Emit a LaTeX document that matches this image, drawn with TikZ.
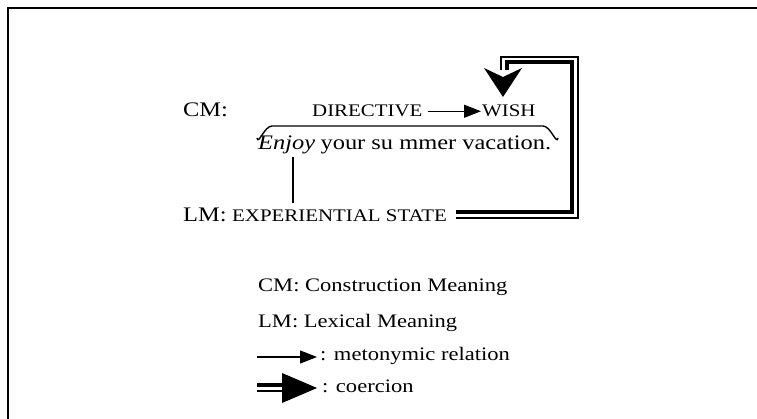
\documentclass[tikz,border=0pt]{standalone}
\usepackage{fontspec}
\setmainfont{Liberation Serif}[FakeStretch=1.18]
\usetikzlibrary{arrows.meta,positioning,calc}
\newcommand{\cmsize}{\fontsize{20.7pt}{24pt}\selectfont}
\newcommand{\capsize}{\fontsize{17.7pt}{21pt}\selectfont}
\newcommand{\legsize}{\fontsize{19.1pt}{23pt}\selectfont}
\tikzset{
  lbl/.style={anchor=base west,inner sep=0pt,font=\cmsize},
  capslbl/.style={anchor=base west,inner sep=0pt,font=\capsize},
  leglbl/.style={anchor=base west,inner sep=0pt,font=\legsize},
  meto/.style={line width=1.2pt,-{Triangle[length=17pt,width=13pt]}},
  thickline/.style={line width=4pt},
  thinline/.style={line width=1.5pt},
}

\begin{document}
\begin{tikzpicture}[x=1pt,y=-1pt]
    \useasboundingbox (0,0) rectangle (757,419);
    \draw[line width=1.6pt] (8,440) |- (780,8);
    % construction and lexical meaning
    \node[lbl] (cm) at (183,117) {CM:};
    \node[capslbl] (dir) at (312,117) {DIRECTIVE};
    \node[capslbl] (wish) at (482,117) {WISH};
    \draw[meto,shorten <=5pt,shorten >=1pt] (dir.east) -- (wish.west);
    \draw[line width=1.4pt] (257,138) to[out=-80,in=180] (272,126) -- (543,126) to[out=0,in=-100] (558,138);
    \node[lbl] (enjoy) at (258,150) {\itshape Enjoy};
    \node[lbl,anchor=base west] (rest) at ([xshift=5pt]enjoy.base east) {your su mmer vacation.};
    \node[lbl] (lm) at (183,222) {LM:};
    \node[capslbl] (exp) at (232,222) {EXPERIENTIAL STATE};
    \coordinate (j) at ([xshift=6.5pt,yshift=-2.5pt]enjoy.south);
    \draw[line width=1.4pt,shorten >=7pt] (j) -- (j |- exp.north);
    % coercion
    \coordinate (tip) at (503,97);
    \draw[thickline] ([xshift=9pt,yshift=4pt]exp.east) -| (572,62) -| (507,70);
    \draw[thinline] ([xshift=9pt,yshift=-2pt]exp.east) -| (578,57) -| (501,70);
    \fill (tip) -- ++(19,-29) -- ++(-19,9) -- ++(-19,-9) -- cycle;
    % legend
    \node[leglbl] (cmlab) at (258,292) {CM: Construction Meaning};
    \node[leglbl] (lmlab) at (258,327) {LM: Lexical Meaning};
    \node[leglbl] (metlab) at (320,360) {: metonymic relation};
    \node[leglbl] (coelab) at (322,392) {: coercion};
    \coordinate (m0) at (257,357);
    \draw[meto,shorten >=3pt] (m0) -- (m0 -| metlab.west);
    \coordinate (c0) at (257,388);
    \draw[thickline] ([yshift=3pt]c0) -- ++(29,0);
    \draw[thinline] ([yshift=-3pt]c0) -- ++(29,0);
    \fill (c0) ++(60,0) -- ++(-35,-15) -- ++(0,30) -- cycle;
\end{tikzpicture}
\end{document}
